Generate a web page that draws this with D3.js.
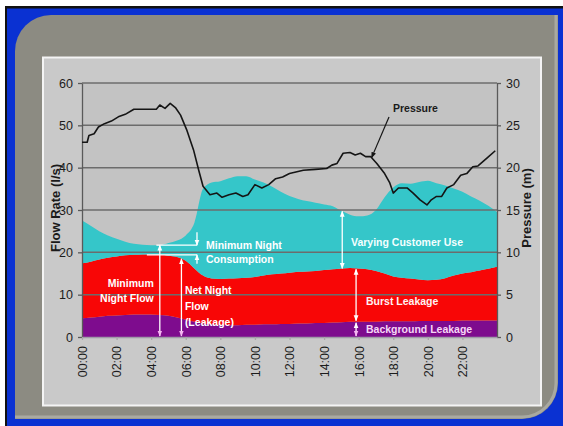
<!DOCTYPE html>
<html>
<head>
<meta charset="utf-8">
<script src="https://cdn.jsdelivr.net/npm/d3@7"></script>
<style>
  html, body { margin: 0; padding: 0; background: #ffffff; overflow: hidden; }
  svg { display: block; font-family: "Liberation Sans", Arial, sans-serif; }
</style>
</head>
<body>
<svg id="chart" width="563" height="426"></svg>
<script>
// Half-hourly flow components (l/s) over one day
const hours = [0,0.5,1,1.5,2,2.5,3,3.5,4,4.5,5,5.5,6,6.5,7,7.5,8,8.5,9,9.5,10,10.5,11,11.5,12,
  12.5,13,13.5,14,14.5,15,15.5,16,16.5,17,17.5,18,18.5,19,19.5,20,20.5,21,21.5,22,22.5,23,23.5,24];
const backgroundLeakage = [4.4,4.6,4.8,5.0,5.1,5.2,5.3,5.3,5.3,5.2,5.0,4.6,4.1,3.6,3.2,3.0,2.9,2.8,2.8,2.9,2.9,
  3.0,3.0,3.1,3.1,3.2,3.2,3.3,3.3,3.4,3.5,3.6,3.6,3.6,3.6,3.7,3.7,3.7,3.7,3.8,3.8,3.8,3.8,3.8,3.9,3.9,3.9,3.9,3.9];
const burstLeakage = [13.0,13.2,13.5,13.7,13.9,14.1,14.1,14.2,14.2,14.2,14.2,14.3,13.9,12.6,11.3,10.8,10.8,11.0,11.1,11.1,11.3,
  11.5,11.8,11.9,12.1,12.2,12.3,12.3,12.5,12.6,12.7,12.7,12.6,12.4,12.0,11.3,10.6,10.3,10.1,9.8,9.6,9.7,10.1,10.7,11.1,11.4,11.8,12.2,12.7];
const customerUse = [10.1,8.5,6.7,5.3,4.2,3.2,2.6,2.3,2.2,2.3,3.0,3.9,6.0,10.8,20.5,22.7,23.1,23.7,24.1,24.0,23.0,
  22.0,20.7,19.3,18.1,17.2,16.6,16.1,15.5,14.9,13.6,12.6,12.3,12.7,14.4,18.0,21.0,22.3,22.4,23.0,23.5,22.8,21.9,20.6,19.3,17.9,16.5,14.9,12.9];

// System pressure (m)
const pressureHours = [0,0.3,0.4,0.7,0.95,1.3,1.7,2.1,2.5,3.0,3.5,4.3,4.5,4.8,5.1,5.4,5.7,6.05,6.45,6.75,7.0,7.4,7.8,8.1,
  8.5,8.9,9.3,9.6,10.0,10.4,10.8,11.2,11.6,12.0,12.8,13.5,14.15,14.45,14.75,15.1,15.5,15.8,16.1,16.4,16.7,17.05,17.5,
  17.8,18.0,18.3,18.8,19.15,19.55,19.95,20.2,20.5,20.8,21.1,21.5,21.9,22.25,22.6,22.9,23.4,23.9];
const pressure = [23.0,23.0,23.8,24.0,24.8,25.2,25.5,26.0,26.3,26.9,26.9,26.9,27.4,27.0,27.6,27.1,26.2,24.5,22.1,19.7,17.8,16.8,17.0,16.5,
  16.8,17.0,16.6,16.8,18.0,17.6,18.0,18.7,18.9,19.3,19.7,19.8,19.9,20.3,20.5,21.7,21.8,21.5,21.7,21.3,21.3,20.5,19.3,
  18.2,17.0,17.6,17.6,17.0,16.2,15.6,16.2,16.6,16.6,17.6,18.0,19.1,19.3,20.1,20.2,21.1,22.0];

const flowTicks = [0,10,20,30,40,50,60];
const pressureTicks = [0,5,10,15,20,25,30];
const timeTicks = [0,2,4,6,8,10,12,14,16,18,20,22];
const timeLabels = ["00:00","02:00","04:00","06:00","08:00","10:00","12:00","14:00","16:00","18:00","20:00","22:00"];

const W = 563, H = 426;
const plot = { left: 82, right: 497, top: 83, bottom: 337 };

const svg = d3.select("#chart");

// ---- frame: blue border, rounded grey slide panel, light chart panel ----
svg.append("rect").attr("x", 5).attr("y", 6).attr("width", W - 5).attr("height", H - 6).attr("fill", "#111");
svg.append("rect").attr("x", 7).attr("y", 8.5).attr("width", W - 7).attr("height", H - 8.5).attr("fill", "#0a31d2");

const r = 36, pl = 15, pt = 15, pr = 558, pb = 419;
svg.append("path")
  .attr("d", `M${pl + r},${pt} L${pr},${pt} L${pr},${pb - r} A${r},${r} 0 0 1 ${pr - r},${pb} L${pl},${pb} L${pl},${pt + r} A${r},${r} 0 0 1 ${pl + r},${pt} Z`)
  .attr("fill", "#8c8b82");
svg.append("path")
  .attr("d", `M${pr - 2},${pt} L${pr - 2},${pb - r} A${r - 2},${r - 2} 0 0 1 ${pr - r},${pb - 2} L${pl},${pb - 2}`)
  .attr("fill", "none").attr("stroke", "#a9a9a1").attr("stroke-width", 3);

svg.append("rect").attr("x", 43).attr("y", 57.5).attr("width", 498).attr("height", 348)
  .attr("fill", "#c9c9c9").attr("stroke", "#f4f4f4").attr("stroke-width", 2);
svg.append("rect").attr("x", plot.left).attr("y", plot.top)
  .attr("width", plot.right - plot.left).attr("height", plot.bottom - plot.top).attr("fill", "#c3c3c3");

// ---- scales ----
const x = d3.scaleLinear().domain([0, 24]).range([plot.left, plot.right]);
const yFlow = d3.scaleLinear().domain([0, 60]).range([plot.bottom, plot.top]);
const yPress = d3.scaleLinear().domain([0, 30]).range([plot.bottom, plot.top]);

// ---- stacked flow areas ----
const rows = hours.map((h, i) => ({ h, background: backgroundLeakage[i], burst: burstLeakage[i], customer: customerUse[i] }));
const keys = ["background", "burst", "customer"];
const colors = { background: "#7e0c8e", burst: "#f80606", customer: "#35c6c9" };
const stacked = d3.stack().keys(keys)(rows);
const area = d3.area()
  .x(d => x(d.data.h))
  .y0(d => yFlow(d[0]))
  .y1(d => yFlow(d[1]))
  .curve(d3.curveMonotoneX);
svg.append("g").selectAll("path").data(stacked).join("path")
  .attr("d", area).attr("fill", d => colors[d.key]);

// ---- gridlines ----
svg.append("g").selectAll("line").data(flowTicks.filter(v => v > 0)).join("line")
  .attr("x1", plot.left).attr("x2", plot.right)
  .attr("y1", d => yFlow(d)).attr("y2", d => yFlow(d))
  .attr("stroke", "#6c6c6c").attr("stroke-width", 1.5);

// ---- axes ----
const axisStyle = g => {
  g.select(".domain").attr("stroke", "#5a5a5a").attr("stroke-width", 1.3);
  g.selectAll(".tick line").attr("stroke", "#5a5a5a").attr("stroke-width", 1.3);
  g.selectAll(".tick text").attr("fill", "#1c1c1c").attr("font-size", "12.5px")
    .attr("font-family", "'Liberation Sans', Arial, sans-serif");
};
svg.append("g").attr("transform", `translate(${plot.left},0)`)
  .call(d3.axisLeft(yFlow).tickValues(flowTicks).tickSize(4).tickPadding(5).tickSizeOuter(0))
  .call(axisStyle);
svg.append("g").attr("transform", `translate(${plot.right},0)`)
  .call(d3.axisRight(yPress).tickValues(pressureTicks).tickSize(4).tickPadding(5).tickSizeOuter(0))
  .call(axisStyle);
const xAxis = svg.append("g").attr("transform", `translate(0,${plot.bottom})`)
  .call(d3.axisBottom(x).tickValues(timeTicks).tickFormat((d, i) => timeLabels[i]).tickSize(3).tickSizeOuter(0))
  .call(axisStyle);
xAxis.select(".domain").attr("stroke", "#a09aa8");
xAxis.selectAll(".tick line").attr("stroke", "#a8a8a8");
xAxis.selectAll(".tick text")
  .attr("transform", "rotate(-90)")
  .attr("text-anchor", "end")
  .attr("x", -9).attr("y", 0).attr("dy", "0.35em");

// ---- axis titles ----
svg.append("text").attr("transform", `translate(60,${(plot.top + plot.bottom) / 2 - 2}) rotate(-90)`)
  .attr("text-anchor", "middle").attr("font-size", "13px").attr("font-weight", "bold").attr("fill", "#1a1a1a")
  .text("Flow Rate (l/s)");
svg.append("text").attr("transform", `translate(531,${(plot.top + plot.bottom) / 2 - 2}) rotate(-90)`)
  .attr("text-anchor", "middle").attr("font-size", "13px").attr("font-weight", "bold").attr("fill", "#1a1a1a")
  .text("Pressure (m)");

// ---- pressure line ----
const line = d3.line().x((d, i) => x(pressureHours[i])).y(d => yPress(d));
svg.append("path").datum(pressure).attr("d", line)
  .attr("fill", "none").attr("stroke", "#151515").attr("stroke-width", 1.6).attr("stroke-linejoin", "round");

// ---- annotations ----
const defs = svg.append("defs");
function marker(id, color) {
  defs.append("marker").attr("id", id).attr("viewBox", "0 0 10 10").attr("refX", 9).attr("refY", 5)
    .attr("markerUnits", "userSpaceOnUse").attr("markerWidth", 6).attr("markerHeight", 6)
    .attr("orient", "auto-start-reverse")
    .append("path").attr("d", "M0,1 L10,5 L0,9 Z").attr("fill", color);
}
marker("headW", "#ffffff");
marker("headP", "#f6b4f2");
marker("headK", "#151515");

// cumulative flow level at a given hour
const level = (stackIdx, h) => {
  const vals = stacked[stackIdx].map(d => d[1]);
  return d3.scaleLinear().domain(hours).range(vals)(h);
};
const bgAt = h => level(0, h), redAt = h => level(1, h), totalAt = h => level(2, h);

function arrow(x1, y1, x2, y2, startHead, endHead, color = "#ffffff", width = 1.3) {
  const l = svg.append("line").attr("x1", x1).attr("y1", y1).attr("x2", x2).attr("y2", y2)
    .attr("stroke", color).attr("stroke-width", width);
  if (startHead) l.attr("marker-start", `url(#${startHead})`);
  if (endHead) l.attr("marker-end", `url(#${endHead})`);
}
function label(lines, px, py, anchor, color = "#ffffff", size = 10.5, gap = 15.5) {
  lines.forEach((t, i) => svg.append("text").attr("x", px).attr("y", py + i * gap)
    .attr("text-anchor", anchor).attr("font-size", size + "px").attr("font-weight", "bold")
    .attr("fill", color).text(t));
}

// minimum night flow
const mnfHour = 4.5;
arrow(x(mnfHour), yFlow(totalAt(mnfHour)), x(mnfHour), yFlow(0) - 1, "headW", "headP");
label(["Minimum", "Night Flow"], x(4.15), 286.5, "end");

// minimum night consumption (gap between total and leakage at night)
const mncX = x(6.65);
svg.append("line").attr("x1", x(4.3)).attr("x2", mncX).attr("y1", yFlow(totalAt(mnfHour))).attr("y2", yFlow(totalAt(mnfHour)))
  .attr("stroke", "#ffffff").attr("stroke-width", 1.3);
svg.append("line").attr("x1", x(3.75)).attr("x2", mncX).attr("y1", yFlow(redAt(mnfHour))).attr("y2", yFlow(redAt(mnfHour)))
  .attr("stroke", "#ffffff").attr("stroke-width", 1.3);
arrow(mncX, yFlow(totalAt(mnfHour)) - 13, mncX, yFlow(totalAt(mnfHour)), null, "headW");
arrow(mncX, yFlow(redAt(mnfHour)) + 9, mncX, yFlow(redAt(mnfHour)), null, "headW");
label(["Minimum Night", "Consumption"], 206, 249, "start", "#ffffff", 10.5, 14);

// net night flow (leakage)
const nnfHour = 5.75;
arrow(x(nnfHour), yFlow(redAt(nnfHour)), x(nnfHour), yFlow(0) - 1, "headW", "headP");
label(["Net Night", "Flow", "(Leakage)"], x(5.95), 294, "start", "#ffffff", 10.5, 16);

// daytime breakdown
const useHour = 15.05, leakHour = 15.85;
arrow(x(useHour), yFlow(totalAt(useHour)), x(useHour), yFlow(redAt(useHour)), "headW", "headW");
label(["Varying Customer Use"], 351, 246, "start", "#f4ffff");
arrow(x(leakHour), yFlow(redAt(leakHour)) + 1, x(leakHour), yFlow(bgAt(leakHour)) - 1, "headW", "headW");
label(["Burst Leakage"], 366, 305, "start", "#fff2f2");
arrow(x(leakHour), yFlow(bgAt(leakHour)) + 1, x(leakHour), yFlow(0) - 1, "headW", "headP");
label(["Background Leakage"], 366, 333, "start", "#f6d6f6");

// pressure callout
const pHour = 16.75;
const pAt = d3.scaleLinear().domain(pressureHours).range(pressure)(pHour);
arrow(389, 117, x(pHour), yPress(pAt), null, "headK", "#151515", 1.2);
svg.append("text").attr("x", 393).attr("y", 112).attr("font-size", "10.5px").attr("font-weight", "bold")
  .attr("fill", "#1a1a1a").text("Pressure");
</script>
</body>
</html>
